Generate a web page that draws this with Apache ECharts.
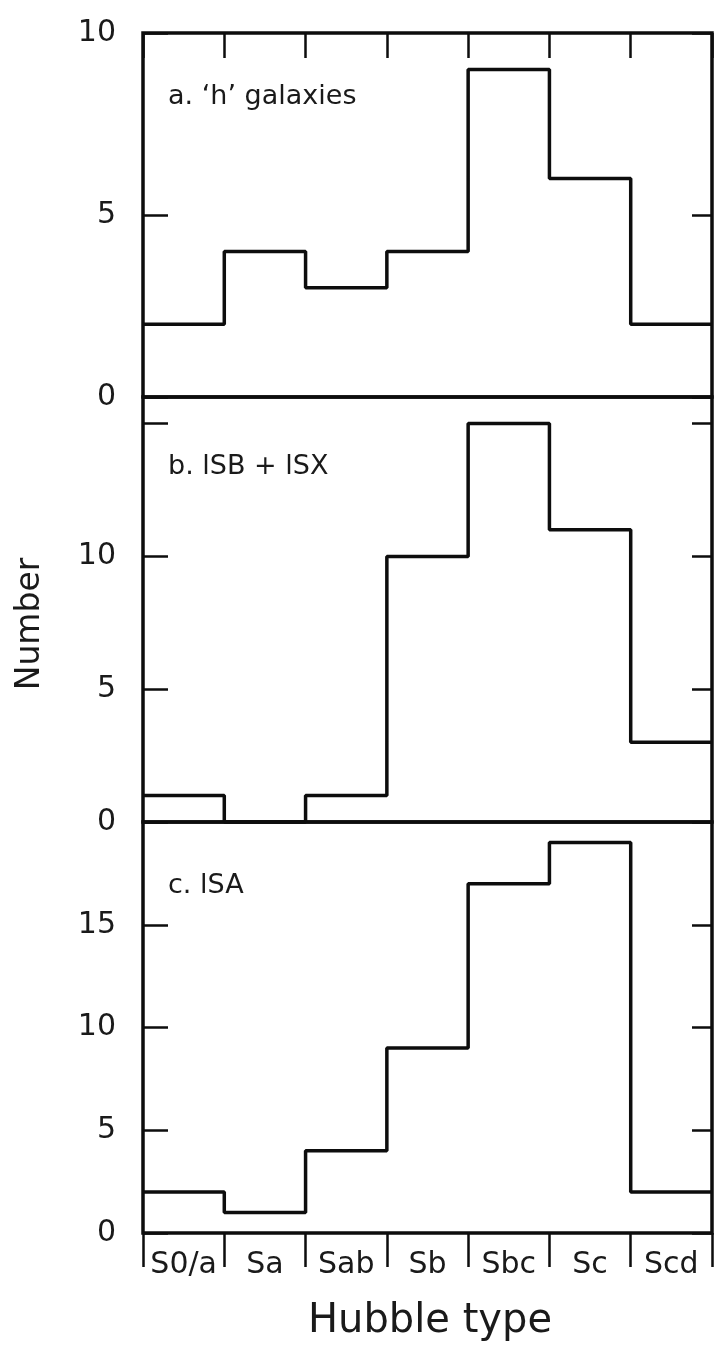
<!DOCTYPE html>
<html>
<head>
<meta charset="utf-8">
<script src="https://cdn.jsdelivr.net/npm/echarts@6/dist/echarts.min.js"></script>
<style>
  html, body { margin: 0; padding: 0; background: #fff; }
  #chart { width: 714px; height: 1353px; }
</style>
</head>
<body>
<div id="chart"></div>
<script>
// Hubble-type distribution of three galaxy samples
const categories = ['S0/a', 'Sa', 'Sab', 'Sb', 'Sbc', 'Sc', 'Scd'];
const hGalaxies = [2, 4, 3, 4, 9, 6, 2];
const isbIsx = [1, 0, 1, 10, 15, 11, 3];
const isa = [2, 1, 4, 9, 17, 19, 2];
const panelTitles = ['a. \u2018h\u2019 galaxies', 'b. lSB + lSX', 'c. lSA'];
const panelMax = [10, 16, 20];
const panelTickLabels = [[0, 5, 10], [0, 5, 10], [0, 5, 10, 15]];

const INK = '#0d0d0d';
const FONT = '"DejaVu Sans", sans-serif';

// panel boxes (top, height) in pixels
const panels = [
  { top: 33, height: 364, values: hGalaxies },
  { top: 397, height: 425, values: isbIsx },
  { top: 822, height: 411, values: isa }
];
const LEFT = 143, RIGHT = 2;

// histogram outline: each bin spans [i, i+1]
function stepPoints(vals) {
  const pts = vals.map((v, i) => [i, v]);
  pts.push([vals.length, vals[vals.length - 1]]);
  return pts;
}

const grid = [], xAxis = [], yAxis = [], series = [], graphic = [];

panels.forEach((p, i) => {
  grid.push({
    left: LEFT, right: RIGHT, top: p.top, height: p.height,
    show: true, borderColor: INK, borderWidth: 3.5, backgroundColor: 'transparent'
  });

  const xTick = i === 0
    ? { show: true, inside: true, length: 25, lineStyle: { color: INK, width: 2.5 } }
    : i === 2
      ? { show: true, inside: false, length: 34, lineStyle: { color: INK, width: 2.5 } }
      : { show: false };

  xAxis.push({
    type: 'value', gridIndex: i, min: 0, max: categories.length, interval: 1,
    position: i === 0 ? 'top' : 'bottom',
    axisLine: { show: false, onZero: false }, axisLabel: { show: false },
    splitLine: { show: false }, axisTick: xTick
  });

  const labels = panelTickLabels[i];
  yAxis.push({
    type: 'value', gridIndex: i, min: 0, max: panelMax[i], interval: 5,
    position: 'left',
    axisLine: { show: false, onZero: false }, splitLine: { show: false },
    axisTick: { show: true, inside: true, length: 25, lineStyle: { color: INK, width: 2.5 } },
    axisLabel: {
      show: true, margin: 27, color: '#1a1a1a', fontSize: 30, fontFamily: FONT,
      showMinLabel: true, showMaxLabel: true,
      formatter: v => (labels.indexOf(v) >= 0 ? String(v) : '')
    }
  });
  yAxis.push({
    type: 'value', gridIndex: i, min: 0, max: panelMax[i], interval: 5,
    position: 'right',
    axisLine: { show: false, onZero: false }, splitLine: { show: false },
    axisTick: { show: true, inside: true, length: 20, lineStyle: { color: INK, width: 2.5 } },
    axisLabel: { show: false }
  });

  series.push({
    type: 'line', step: 'end', xAxisIndex: i, yAxisIndex: i * 2,
    data: stepPoints(p.values), symbol: 'none', clip: false,
    lineStyle: { color: INK, width: 3.5 }, silent: true, animation: false
  });

  graphic.push({
    type: 'text', left: 168, top: p.top + (i === 0 ? 50 : i === 1 ? 56 : 50),
    style: { text: panelTitles[i], font: '27px ' + FONT, fill: '#1a1a1a' }
  });
});

// Hubble type names centred under each bin of the bottom panel
xAxis.push({
  type: 'category', gridIndex: 2, data: categories, position: 'bottom',
  boundaryGap: true,
  axisLine: { show: false, onZero: false }, axisTick: { show: false }, splitLine: { show: false },
  axisLabel: { show: true, margin: 17, color: '#1a1a1a', fontSize: 30, fontFamily: FONT, interval: 0 }
});

graphic.push({
  type: 'text', x: 30, y: 624, rotation: Math.PI / 2,
  style: { text: 'Number', font: '33px ' + FONT, fill: '#1a1a1a', textAlign: 'center', textVerticalAlign: 'middle' }
});
graphic.push({
  type: 'text', x: 430, y: 1322,
  style: { text: 'Hubble type', font: '40px ' + FONT, fill: '#1a1a1a', textAlign: 'center', textVerticalAlign: 'middle' }
});

const chart = echarts.init(document.getElementById('chart'), null, { renderer: 'canvas' });
chart.setOption({
  backgroundColor: '#fff',
  animation: false,
  grid, xAxis, yAxis, series, graphic
});
</script>
</body>
</html>
